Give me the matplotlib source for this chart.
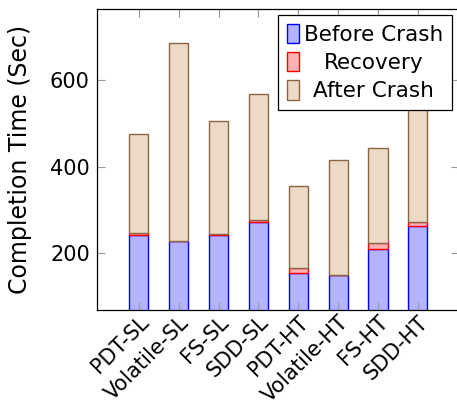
import matplotlib
matplotlib.use("Agg")
import matplotlib.pyplot as plt
import numpy as np

# 数据
categories = ['PDT-SL', 'Volatile-SL', 'FS-SL', 'SDD-SL',
              'PDT-HT', 'Volatile-HT', 'FS-HT', 'SDD-HT']
before_crash = [242, 229, 242, 273, 155, 149, 211, 263]
recovery = [4, 0, 3, 4, 11, 0, 13, 10]
after_crash = [229, 456, 260, 290, 190, 266, 218, 317]
yticks = [200, 400, 600]

plt.rcParams['font.family'] = ['DejaVu Sans']

fig = plt.figure(figsize=(4.57, 4.05), dpi=100)
ax = fig.add_axes([96.7 / 457, 1 - 310 / 405, (459 - 96.7) / 457, (310 - 9) / 405])

x = np.arange(len(categories))
w = 0.48
b1 = np.array(before_crash)
b2 = b1 + np.array(recovery)

ax.bar(x, before_crash, w, color='#b3b3ff', edgecolor='blue', linewidth=1, label='Before Crash')
ax.bar(x, recovery, w, bottom=b1, color='#ffb3b3', edgecolor='red', linewidth=1, label='Recovery')
ax.bar(x, after_crash, w, bottom=b2, color='#ecd9c6', edgecolor='#8b6444', linewidth=1, label='After Crash')

ax.set_xlim(-1.06, 7 + (459 - 417.8) / 39.86)
ax.set_ylim(69, 764)
ax.set_yticks(yticks)
ax.set_xticks(x)
ax.set_xticklabels(categories, rotation=45, ha='right', va='top', rotation_mode='anchor', fontsize=16)
ax.tick_params(axis='both', direction='in', length=5.8, width=0.8, color='#999999',
               top=True, right=True, labelsize=15, pad=5)
ax.tick_params(axis='x', pad=1.5)
ax.set_ylabel('Completion Time (Sec)', fontsize=17, labelpad=13)
for s in ax.spines.values():
    s.set_linewidth(0.9)

leg = ax.legend(loc='upper right', bbox_to_anchor=((452 - 96.7) / (459 - 96.7), (310 - 15) / (310 - 9)),
                fontsize=15.5, frameon=True, fancybox=False, framealpha=1, edgecolor='black',
                handlelength=0.55, handleheight=1.0, handletextpad=0.25, borderpad=0.4,
                labelspacing=0.34, borderaxespad=0)
leg.get_frame().set_linewidth(0.9)

# pgfplots 风格：图例文字居中
renderer = fig.canvas.get_renderer()
texts = leg.get_texts()
widths = [t.get_window_extent(renderer).width for t in texts]
for t, wd in zip(texts, widths):
    t.set_position(((max(widths) - wd) / 2, 0))

fig.savefig('out.png', dpi=100)
